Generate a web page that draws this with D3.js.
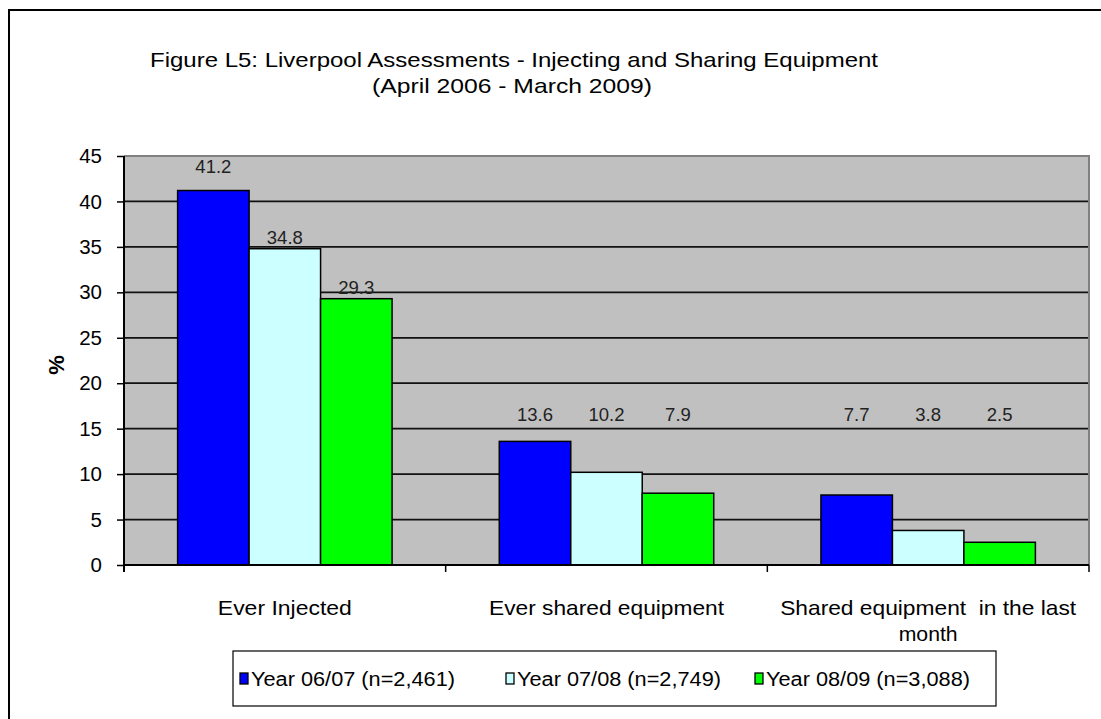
<!DOCTYPE html>
<html>
<head>
<meta charset="utf-8">
<script src="https://cdn.jsdelivr.net/npm/d3@7/dist/d3.min.js"></script>
<style>
  html, body { margin: 0; padding: 0; background: #fff; }
  svg { display: block; }
</style>
</head>
<body>
<svg id="chart" width="1101" height="719"></svg>
<script>
// Data
const categories = ["Ever Injected", "Ever shared equipment", "Shared equipment  in the last month"];
const seriesNames = ["Year 06/07 (n=2,461)", "Year 07/08 (n=2,749)", "Year 08/09 (n=3,088)"];
const year0607 = [41.2, 13.6, 7.7];
const year0708 = [34.8, 10.2, 3.8];
const year0809 = [29.3, 7.9, 2.5];
const yTicks = [0, 5, 10, 15, 20, 25, 30, 35, 40, 45];

const seriesValues = [year0607, year0708, year0809];
const colors = ["#0000FF", "#CCFFFF", "#00FF00"];

const FONT = "'Liberation Sans', Arial, Helvetica, sans-serif";

const svg = d3.select("#chart");

// Outer chart frame
svg.append("rect")
  .attr("x", 9).attr("y", 10).attr("width", 1100).attr("height", 720)
  .attr("fill", "#fff").attr("stroke", "#000").attr("stroke-width", 2);

// Title (two centred lines, spread to the set widths)
const titleLines = [
  { t: "Figure L5: Liverpool Assessments - Injecting and Sharing Equipment", cx: 514, y: 67, w: 728 },
  { t: "(April 2006 - March 2009)", cx: 512, y: 93, w: 280 }
];
svg.append("g").selectAll("text").data(titleLines).join("text")
  .attr("x", d => d.cx - d.w / 2).attr("y", d => d.y)
  .attr("textLength", d => d.w).attr("lengthAdjust", "spacingAndGlyphs")
  .attr("font-family", FONT).attr("font-size", 21).attr("fill", "#000")
  .text(d => d.t);

// Plot geometry
const plotL = 124, plotR = 1089, plotT = 156, plotB = 565;

const y = d3.scaleLinear().domain([0, 45]).range([plotB, plotT]);
const x0 = d3.scaleBand().domain(categories).range([plotL, plotR]).paddingInner(0).paddingOuter(0);
const x1 = d3.scaleBand().domain(seriesNames).range([0, x0.bandwidth()]).paddingInner(0).paddingOuter(0.75);

// Plot area background
svg.append("rect")
  .attr("x", plotL).attr("y", plotT).attr("width", plotR - plotL).attr("height", plotB - plotT)
  .attr("fill", "#C0C0C0");

// Gridlines
svg.append("g").selectAll("line").data(yTicks.filter(d => d > 0)).join("line")
  .attr("x1", plotL).attr("x2", plotR)
  .attr("y1", d => y(d)).attr("y2", d => y(d))
  .attr("stroke", d => d === 45 ? "#808080" : "#111").attr("stroke-width", d => d === 45 ? 2 : 1.7);

// Plot area right border
svg.append("line").attr("x1", plotR).attr("x2", plotR).attr("y1", plotT - 1).attr("y2", plotB)
  .attr("stroke", "#808080").attr("stroke-width", 2);

// Bars
const groups = svg.append("g").selectAll("g").data(categories).join("g")
  .attr("transform", d => `translate(${x0(d)},0)`);

groups.selectAll("rect")
  .data((c, ci) => seriesNames.map((s, si) => ({ s, si, v: seriesValues[si][ci] })))
  .join("rect")
  .attr("x", d => x1(d.s))
  .attr("y", d => y(d.v))
  .attr("width", x1.bandwidth())
  .attr("height", d => y(0) - y(d.v))
  .attr("fill", d => colors[d.si])
  .attr("stroke", "#000").attr("stroke-width", 1.5);

// Value labels: sit just above a bar, but never lower than a common shelf
const shelf = y(15.8);
const extraLift = (ci, si) => (ci === 0 && si === 0 ? 13 : 0);
groups.selectAll("text.val")
  .data((c, ci) => seriesNames.map((s, si) => ({ s, si, ci, v: seriesValues[si][ci] })))
  .join("text").attr("class", "val")
  .attr("x", d => x1(d.s) + x1.bandwidth() / 2)
  .attr("y", d => Math.min(y(d.v) - 5, shelf) - extraLift(d.ci, d.si))
  .attr("text-anchor", "middle")
  .attr("font-family", FONT).attr("font-size", 18.5).attr("fill", "#222")
  .text(d => d.v.toFixed(1));

// Y axis
const yAxis = d3.axisLeft(y).tickValues(yTicks).tickSize(7).tickPadding(15).tickFormat(d3.format("d"));
const yg = svg.append("g").attr("transform", `translate(${plotL},0)`).call(yAxis);
yg.select(".domain").attr("stroke", "#000").attr("stroke-width", 2).attr("d", `M0,${plotT}V${plotB + 7}`);
yg.selectAll(".tick line").attr("stroke", "#000").attr("stroke-width", 1.5);
yg.selectAll(".tick text").attr("font-family", FONT).attr("font-size", 20.5).attr("fill", "#000");

// Y axis title
svg.append("text")
  .attr("transform", "translate(64,365) rotate(-90)")
  .attr("text-anchor", "middle")
  .attr("font-family", FONT).attr("font-size", 22).attr("font-weight", "bold").attr("fill", "#000")
  .text("%");

// X axis baseline and category ticks
svg.append("line").attr("x1", plotL).attr("x2", plotR).attr("y1", plotB).attr("y2", plotB)
  .attr("stroke", "#000").attr("stroke-width", 2);
const boundaries = categories.map(c => x0(c) + x0.bandwidth());
svg.append("g").selectAll("line").data(boundaries).join("line")
  .attr("x1", d => d).attr("x2", d => d).attr("y1", plotB).attr("y2", plotB + 7)
  .attr("stroke", "#000").attr("stroke-width", 1.5);

// Category labels (last one wraps onto two lines); widths set per line
const catLines = {
  "Ever Injected": [{ t: "Ever Injected", w: 134 }],
  "Ever shared equipment": [{ t: "Ever shared equipment", w: 235 }],
  "Shared equipment  in the last month": [{ t: "Shared equipment  in the last", w: 296 }, { t: "month", w: 59 }]
};
svg.append("g").selectAll("g").data(categories).join("g")
  .each(function (c) {
    const cx = x0(c) + x0.bandwidth() / 2;
    d3.select(this).selectAll("text").data(catLines[c]).join("text")
      .attr("x", d => cx - d.w / 2)
      .attr("y", (d, i) => 615 + i * 26)
      .attr("textLength", d => d.w).attr("lengthAdjust", "spacingAndGlyphs")
      .attr("xml:space", "preserve")
      .attr("font-family", FONT).attr("font-size", 21).attr("fill", "#000")
      .text(d => d.t);
  });

// Legend
const legend = svg.append("g");
legend.append("rect").attr("x", 233).attr("y", 651).attr("width", 763).attr("height", 55)
  .attr("fill", "#fff").attr("stroke", "#000").attr("stroke-width", 1.2);
const legendX = [240, 506, 755];
const items = legend.selectAll("g").data(seriesNames).join("g")
  .attr("transform", (d, i) => `translate(${legendX[i]},679)`);
items.append("rect").attr("x", 0).attr("y", -6).attr("width", 8).attr("height", 11)
  .attr("fill", (d, i) => colors[i]).attr("stroke", "#000").attr("stroke-width", 1.3);
items.append("text").attr("x", 11).attr("y", 7)
  .attr("textLength", 204).attr("lengthAdjust", "spacingAndGlyphs")
  .attr("font-family", FONT).attr("font-size", 19.5).attr("fill", "#000").text(d => d);
</script>
</body>
</html>
